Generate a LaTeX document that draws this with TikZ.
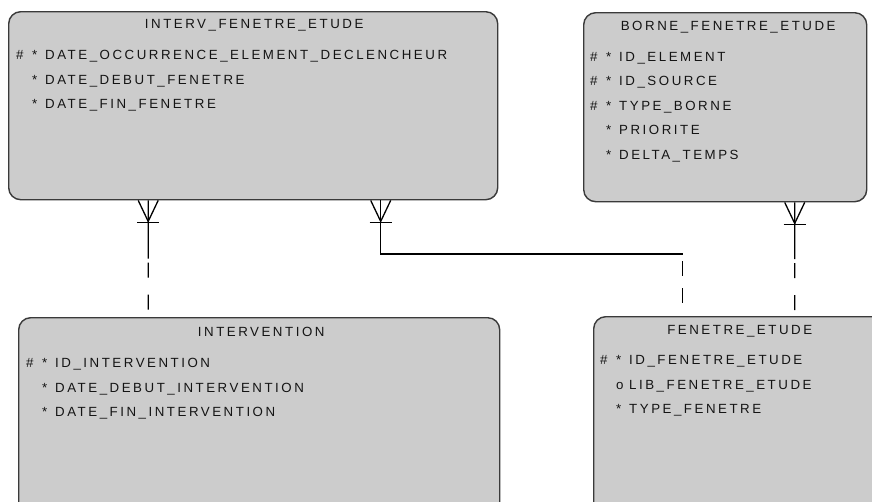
\documentclass[tikz,border=0pt]{standalone}
\usepackage{fontspec}
\setmainfont{Liberation Sans}[LetterSpace=19]
\usetikzlibrary{calc}
\definecolor{boxfill}{HTML}{CCCCCC}
\definecolor{boxline}{HTML}{3A3A3A}
\definecolor{txt}{HTML}{141414}
\newcommand\attrrow[3]{\makebox[16pt][l]{#1}\makebox[13pt][l]{#2}#3}
\newcommand\crowfoot[1]{%
  \draw[rel] ($(#1)+(-10,0)$) -- ($(#1)+(0,21)$) -- ($(#1)+(10,0)$);
  \draw[rel] ($(#1)+(-11,22)$) -- ($(#1)+(11,22)$);}
\begin{document}
\begin{tikzpicture}[x=1pt,y=-1pt,
  entity/.style={draw=boxline, line width=1.4pt, fill=boxfill, rounded corners=12pt,
                 anchor=north west, inner sep=0pt},
  title/.style={anchor=base, inner sep=0pt, text=txt, font=\fontsize{13.3}{15}\selectfont},
  attr/.style={anchor=base west, inner sep=0pt, text=txt, font=\fontsize{13.3}{15}\selectfont},
  rel/.style={line width=1.3pt, black},
  optline/.style={rel, dash pattern=on 0pt off 4pt on 15pt off 13pt}
]
\useasboundingbox (0,0) rectangle (872,501);
\clip (0,0) rectangle (872,501);

% entities
\node[entity, minimum width=489pt, minimum height=188pt] (e1) at (8,11) {};
\node[entity, minimum width=283pt, minimum height=189pt] (e2) at (583,12) {};
\node[entity, minimum width=481pt, minimum height=200pt] (e3) at (18,317) {};
\node[entity, minimum width=290pt, minimum height=200pt] (e4) at (593,316) {};

% titles
\node[title] (t1) at ($(e1.north)+(1,17)$) {INTERV\_FENETRE\_ETUDE};
\node[title] (t2) at ($(e2.north)+(3,18)$) {BORNE\_FENETRE\_ETUDE};
\node[title] (t3) at ($(e3.north)+(2,19)$) {INTERVENTION};
\node[title] (t4) at ($(e4.north)+(1,18)$) {FENETRE\_ETUDE};

% attributes of INTERV_FENETRE_ETUDE
\node[attr] (a11) at (16,59)  {\attrrow{\#}{*}{DATE\_OCCURRENCE\_ELEMENT\_DECLENCHEUR}};
\node[attr] (a12) at (16,84)  {\attrrow{}{*}{DATE\_DEBUT\_FENETRE}};
\node[attr] (a13) at (16,108) {\attrrow{}{*}{DATE\_FIN\_FENETRE}};

% attributes of BORNE_FENETRE_ETUDE
\node[attr] (a21) at (590,61)    {\attrrow{\#}{*}{ID\_ELEMENT}};
\node[attr] (a22) at (590,85.5)  {\attrrow{\#}{*}{ID\_SOURCE}};
\node[attr] (a23) at (590,110)   {\attrrow{\#}{*}{TYPE\_BORNE}};
\node[attr] (a24) at (590,134.5) {\attrrow{}{*}{PRIORITE}};
\node[attr] (a25) at (590,159)   {\attrrow{}{*}{DELTA\_TEMPS}};

% attributes of INTERVENTION
\node[attr] (a31) at (26,367) {\attrrow{\#}{*}{ID\_INTERVENTION}};
\node[attr] (a32) at (26,392) {\attrrow{}{*}{DATE\_DEBUT\_INTERVENTION}};
\node[attr] (a33) at (26,416) {\attrrow{}{*}{DATE\_FIN\_INTERVENTION}};

% attributes of FENETRE_ETUDE
\node[attr] (a41) at (600,364) {\attrrow{\#}{*}{ID\_FENETRE\_ETUDE}};
\node[attr] (a42) at (600,389) {\attrrow{}{o}{LIB\_FENETRE\_ETUDE}};
\node[attr] (a43) at (600,413) {\attrrow{}{*}{TYPE\_FENETRE}};

% relation INTERV_FENETRE_ETUDE -- INTERVENTION
\coordinate (c1a) at ($(e1.south)+(-105,0)$);
\coordinate (c1b) at (c1a |- e3.north);
\coordinate (c1m) at ($(c1a)!0.5!(c1b)$);
\draw[rel] (c1a) -- (c1m);
\draw[optline] (c1m) -- (c1b);
\crowfoot{c1a}

% relation INTERV_FENETRE_ETUDE -- FENETRE_ETUDE
\coordinate (c2a) at ($(e1.south)+(127.5,0)$);
\coordinate (c2b) at ($(e4.north)+(-56,0)$);
\coordinate (c2m) at ($(c2b)+(0,-62)$);
\draw[rel] (c2a) |- (c2m);
\draw[rel, dash pattern=on 0pt off 7pt on 15pt off 12pt on 15pt off 20pt] (c2m) -- (c2b);
\crowfoot{c2a}

% relation BORNE_FENETRE_ETUDE -- FENETRE_ETUDE
\coordinate (c3a) at ($(e2.south)+(69.5,0)$);
\coordinate (c3b) at (c3a |- e4.north);
\coordinate (c3m) at ($(c3a)!0.5!(c3b)$);
\draw[rel] (c3a) -- (c3m);
\draw[optline] (c3m) -- (c3b);
\crowfoot{c3a}
\end{tikzpicture}
\end{document}
